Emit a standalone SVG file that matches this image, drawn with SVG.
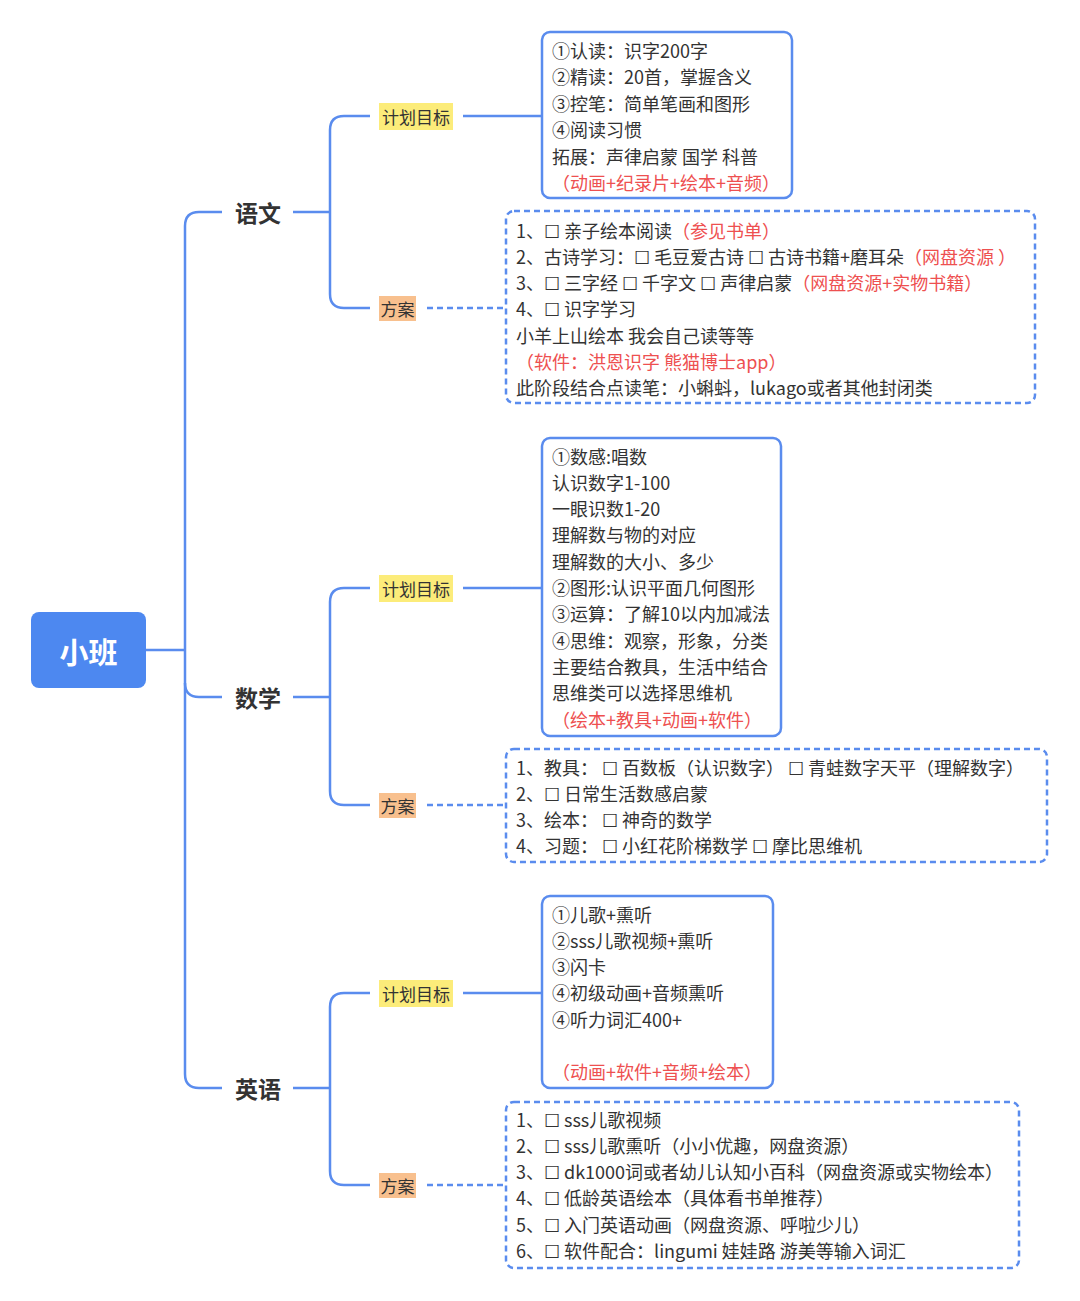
<svg xmlns="http://www.w3.org/2000/svg" width="1080" height="1301" viewBox="0 0 1080 1301">
<style>
text{font-family:"Noto Sans CJK SC","Noto Sans",sans-serif;fill:#333;dominant-baseline:central}
.t{font-size:18px}
.r{fill:#EE5050}
.main{font-size:23px;font-weight:bold;text-anchor:middle;fill:#333}
.lbl{font-size:17px;text-anchor:middle}
.ln{fill:none;stroke:#5A8CEE;stroke-width:2.5}
.dl{fill:none;stroke:#5A8CEE;stroke-width:2.5;stroke-dasharray:6 4}
.box{fill:#fff;stroke:#5A8CEE;stroke-width:2.5}
.dbox{fill:#fff;stroke:#5A8CEE;stroke-width:2.5;stroke-dasharray:6 4}
.yel{fill:#FCEC7A}
.org{fill:#F8C08E}
</style>
<rect width="1080" height="1301" fill="#fff"/>
<g id="connectors">
<path class="ln" d="M146 650 H185"/>
<path class="ln" d="M222 212 H199 Q185 212 185 226 V1074 Q185 1088 199 1088 H222"/>
<path class="ln" d="M185 683 Q185 697 199 697 H222"/>
<path class="ln" d="M293 212 H330"/>
<path class="ln" d="M370 116 H344 Q330 116 330 130 V294 Q330 308 344 308 H370"/>
<path class="ln" d="M463 116 H542"/>
<path class="dl" d="M427 308 H506"/>
<path class="ln" d="M293 697 H330"/>
<path class="ln" d="M370 588 H344 Q330 588 330 602 V791 Q330 805 344 805 H370"/>
<path class="ln" d="M463 588 H542"/>
<path class="dl" d="M427 805 H506"/>
<path class="ln" d="M293 1088 H330"/>
<path class="ln" d="M370 993 H344 Q330 993 330 1007 V1171 Q330 1185 344 1185 H370"/>
<path class="ln" d="M463 993 H542"/>
<path class="dl" d="M427 1185 H506"/>
</g>
<g id="root">
<rect x="31" y="612" width="115" height="76" rx="8" fill="#4D88F0"/>
<text x="88.5" y="651" style="font-size:29px;font-weight:bold;fill:#fff;text-anchor:middle">小班</text>
</g>
<g id="yuwen"><text class="main" x="258" y="212">语文</text></g>
<g id="shuxue"><text class="main" x="258" y="697">数学</text></g>
<g id="yingyu"><text class="main" x="258" y="1088">英语</text></g>
<g id="yuwen-goal-label"><rect class="yel" x="379" y="103" width="74" height="27"/><text class="lbl" x="416" y="116">计划目标</text></g>
<g id="yuwen-plan-label"><rect class="org" x="379" y="296" width="37" height="25"/><text class="lbl" x="397.5" y="308">方案</text></g>
<g id="shuxue-goal-label"><rect class="yel" x="379" y="575" width="74" height="27"/><text class="lbl" x="416" y="588">计划目标</text></g>
<g id="shuxue-plan-label"><rect class="org" x="379" y="793" width="37" height="25"/><text class="lbl" x="397.5" y="805">方案</text></g>
<g id="yingyu-goal-label"><rect class="yel" x="379" y="980" width="74" height="27"/><text class="lbl" x="416" y="993">计划目标</text></g>
<g id="yingyu-plan-label"><rect class="org" x="379" y="1173" width="37" height="25"/><text class="lbl" x="397.5" y="1185">方案</text></g>
<g id="yuwen-goal">
<rect class="box" x="542" y="32" width="250" height="166" rx="8"/>
<text class="t" x="552" y="49.5">①认读：识字200字</text>
<text class="t" x="552" y="76">②精读：20首，掌握含义</text>
<text class="t" x="552" y="102.5">③控笔：简单笔画和图形</text>
<text class="t" x="552" y="129">④阅读习惯</text>
<text class="t" x="552" y="155.5">拓展：声律启蒙 国学 科普</text>
<text class="t r" x="552" y="181.5">（动画+纪录片+绘本+音频）</text>
</g>
<g id="yuwen-plan">
<rect class="dbox" x="506" y="211" width="529" height="192" rx="8"/>
<text class="t" x="516" y="229.5">1、☐ 亲子绘本阅读<tspan class="r">（参见书单）</tspan></text>
<text class="t" x="516" y="255.8">2、古诗学习：☐ 毛豆爱古诗 ☐ 古诗书籍+磨耳朵<tspan class="r">（网盘资源 ）</tspan></text>
<text class="t" x="516" y="282.1">3、☐ 三字经 ☐ 千字文 ☐ 声律启蒙<tspan class="r">（网盘资源+实物书籍）</tspan></text>
<text class="t" x="516" y="308.4">4、☐ 识字学习</text>
<text class="t" x="516" y="334.7">小羊上山绘本 我会自己读等等</text>
<text class="t r" x="516" y="361">（软件：洪恩识字 熊猫博士app）</text>
<text class="t" x="516" y="387.3">此阶段结合点读笔：小蝌蚪，lukago或者其他封闭类</text>
</g>
<g id="shuxue-goal">
<rect class="box" x="542" y="438" width="239" height="298" rx="8"/>
<text class="t" x="552" y="455.5">①数感:唱数</text>
<text class="t" x="552" y="481.8">认识数字1-100</text>
<text class="t" x="552" y="508.1">一眼识数1-20</text>
<text class="t" x="552" y="534.4">理解数与物的对应</text>
<text class="t" x="552" y="560.7">理解数的大小、多少</text>
<text class="t" x="552" y="587">②图形:认识平面几何图形</text>
<text class="t" x="552" y="613.3">③运算：了解10以内加减法</text>
<text class="t" x="552" y="639.6">④思维：观察，形象，分类</text>
<text class="t" x="552" y="665.9">主要结合教具，生活中结合</text>
<text class="t" x="552" y="692.2">思维类可以选择思维机</text>
<text class="t r" x="552" y="718.5">（绘本+教具+动画+软件）</text>
</g>
<g id="shuxue-plan">
<rect class="dbox" x="506" y="749" width="541" height="113" rx="8"/>
<text class="t" x="516" y="766.5">1、教具： ☐ 百数板（认识数字） ☐ 青蛙数字天平（理解数字）</text>
<text class="t" x="516" y="792.8">2、☐ 日常生活数感启蒙</text>
<text class="t" x="516" y="819.1">3、绘本： ☐ 神奇的数学</text>
<text class="t" x="516" y="845.4">4、习题： ☐ 小红花阶梯数学 ☐ 摩比思维机</text>
</g>
<g id="yingyu-goal">
<rect class="box" x="542" y="896" width="231" height="192" rx="8"/>
<text class="t" x="552" y="913.5">①儿歌+熏听</text>
<text class="t" x="552" y="939.8">②sss儿歌视频+熏听</text>
<text class="t" x="552" y="966.1">③闪卡</text>
<text class="t" x="552" y="992.4">④初级动画+音频熏听</text>
<text class="t" x="552" y="1018.7">④听力词汇400+</text>
<text class="t r" x="552" y="1071.3">（动画+软件+音频+绘本）</text>
</g>
<g id="yingyu-plan">
<rect class="dbox" x="506" y="1102" width="513" height="166" rx="8"/>
<text class="t" x="516" y="1118.5">1、☐ sss儿歌视频</text>
<text class="t" x="516" y="1144.8">2、☐ sss儿歌熏听（小小优趣，网盘资源）</text>
<text class="t" x="516" y="1171.1">3、☐ dk1000词或者幼儿认知小百科（网盘资源或实物绘本）</text>
<text class="t" x="516" y="1197.4">4、☐ 低龄英语绘本（具体看书单推荐）</text>
<text class="t" x="516" y="1223.7">5、☐ 入门英语动画（网盘资源、呼啦少儿）</text>
<text class="t" x="516" y="1250">6、☐ 软件配合：lingumi 娃娃路 游美等输入词汇</text>
</g>
</svg>
